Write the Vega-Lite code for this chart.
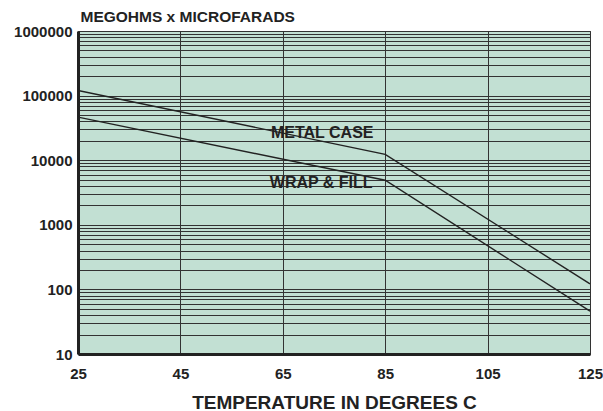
{
  "$schema": "https://vega.github.io/schema/vega-lite/v6.json",
  "width": 512,
  "height": 323,
  "autosize": {"type": "none"},
  "padding": {"left": 78, "top": 31, "right": 13, "bottom": 57},
  "background": "white",
  "config": {
    "view": {"fill": "#c2e0d3", "stroke": "#333333", "strokeWidth": 1},
    "font": "Liberation Sans"
  },
  "datasets": {
    "curves": [
      {"series": "METAL CASE", "temp": 25, "value": 120000},
      {"series": "METAL CASE", "temp": 85, "value": 12300},
      {"series": "METAL CASE", "temp": 125, "value": 122},
      {"series": "WRAP & FILL", "temp": 25, "value": 46500},
      {"series": "WRAP & FILL", "temp": 85, "value": 4900},
      {"series": "WRAP & FILL", "temp": 125, "value": 46}
    ],
    "labels": [
      {"text": "METAL CASE", "temp": 72.7, "value": 26000},
      {"text": "WRAP & FILL", "temp": 72.5, "value": 4400}
    ]
  },
  "layer": [
    {
      "data": {"name": "curves"},
      "mark": {"type": "line", "color": "#222222", "strokeWidth": 1.4, "clip": true},
      "encoding": {
        "detail": {"field": "series", "type": "nominal"},
        "x": {
          "field": "temp", "type": "quantitative",
          "scale": {"domain": [25, 125], "nice": false, "zero": false},
          "axis": {
            "values": [25, 45, 65, 85, 105, 125],
            "title": "TEMPERATURE IN DEGREES C",
            "titleFontSize": 19, "titleFontWeight": "bold", "titleColor": "#222222", "titlePadding": 12,
            "labelFontSize": 15, "labelFontWeight": "bold", "labelColor": "#222222", "labelPadding": 12,
            "ticks": false,
            "domainColor": "#222222", "domainWidth": 3,
            "grid": true, "gridColor": "#333333", "gridWidth": 1,
            "labelFlush": false
          }
        },
        "y": {
          "field": "value", "type": "quantitative",
          "scale": {"type": "log", "domain": [10, 1000000], "nice": false},
          "axis": {
            "values": [10,20,30,40,50,60,70,80,90,100,200,300,400,500,600,700,800,900,1000,2000,3000,4000,5000,6000,7000,8000,9000,10000,20000,30000,40000,50000,60000,70000,80000,90000,100000,200000,300000,400000,500000,600000,700000,800000,900000,1000000],
            "format": "d",
            "labelExpr": "test(/^10*$/, datum.label) ? datum.label : ''",
            "labelOverlap": false,
            "labelFontSize": 15, "labelFontWeight": "bold", "labelColor": "#222222", "labelPadding": 6,
            "labelBaseline": "middle",
            "ticks": false,
            "domainColor": "#222222", "domainWidth": 3,
            "grid": true, "gridColor": "#333333", "gridWidth": 1,
            "title": "MEGOHMS x MICROFARADS",
            "titleAngle": 0, "titleAlign": "left", "titleBaseline": "alphabetic",
            "titleX": 2, "titleY": -10,
            "titleFontSize": 15.5, "titleFontWeight": "bold", "titleColor": "#222222"
          }
        }
      }
    },
    {
      "data": {"name": "labels"},
      "mark": {"type": "text", "fontSize": 16, "fontWeight": "bold", "color": "#222222", "align": "center", "baseline": "middle"},
      "encoding": {
        "x": {"field": "temp", "type": "quantitative"},
        "y": {"field": "value", "type": "quantitative"},
        "text": {"field": "text"}
      }
    }
  ]
}
